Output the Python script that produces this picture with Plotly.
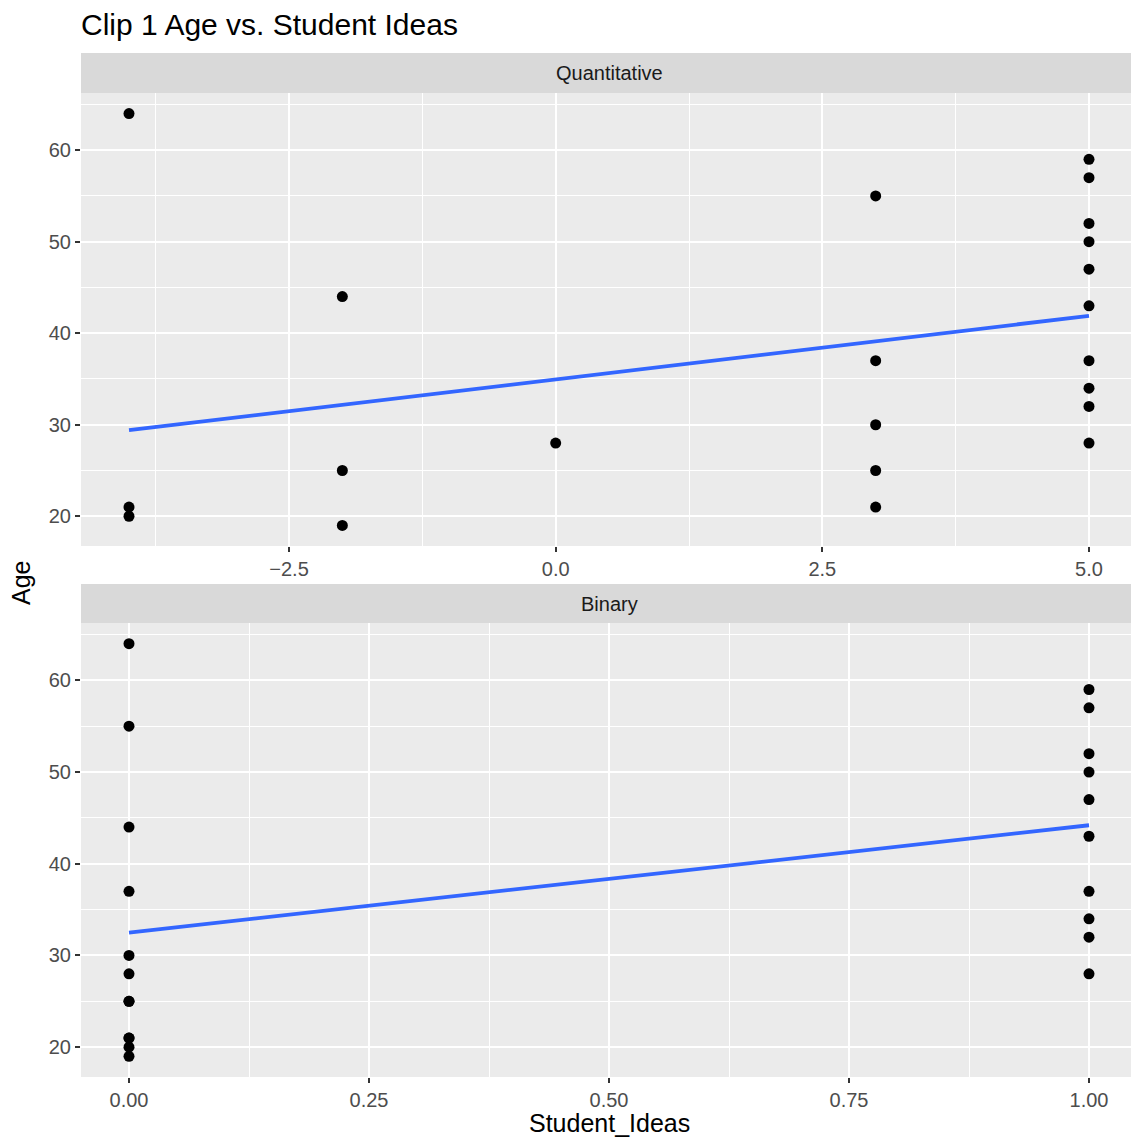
import plotly.graph_objects as go

# Quantitative panel data
quant_x = [-4, -4, -4, -2, -2, -2, 0, 3, 3, 3, 3, 3,
           5, 5, 5, 5, 5, 5, 5, 5, 5, 5]
quant_age = [64, 21, 20, 44, 25, 19, 28, 55, 37, 30, 25, 21,
             59, 57, 52, 50, 47, 43, 37, 34, 32, 28]
# Binary panel data
bin_x = [0, 0, 0, 0, 0, 0, 0, 0, 0, 0, 0, 0,
         1, 1, 1, 1, 1, 1, 1, 1, 1, 1]
bin_age = [64, 21, 20, 44, 25, 19, 28, 55, 37, 30, 25, 21,
           59, 57, 52, 50, 47, 43, 37, 34, 32, 28]
# Fitted lm lines
quant_fit_x = [-4, 5]
quant_fit_y = [29.4, 41.9]
bin_fit_x = [0, 1]
bin_fit_y = [32.5, 44.2]

quant_ticks = [-2.5, 0.0, 2.5, 5.0]
bin_ticks = [0.0, 0.25, 0.5, 0.75, 1.0]
y_ticks = [20, 30, 40, 50, 60]

OFF = 8  # page body margin
W, H = 1139 - OFF, 1141 - OFF
ml, mr, mt, mb = 81 - OFF, 2, 93 - OFF, 64
pw = W - ml - mr
ph = H - mt - mb

def py(px):  # reference pixel y -> paper y
    return (1141 - mb - px) / ph

def pxx(px):  # reference pixel x -> paper x
    return (px - 81) / pw

FONT = "Liberation Sans, Arial, sans-serif"
TICK_FS = 20
fig = go.Figure()

fig.add_trace(go.Scatter(x=quant_x, y=quant_age, mode="markers",
                         marker=dict(color="black", size=11), xaxis="x", yaxis="y", showlegend=False))
fig.add_trace(go.Scatter(x=quant_fit_x, y=quant_fit_y, mode="lines",
                         line=dict(color="#3366FF", width=3.8), xaxis="x", yaxis="y", showlegend=False))
fig.add_trace(go.Scatter(x=bin_x, y=bin_age, mode="markers",
                         marker=dict(color="black", size=11), xaxis="x2", yaxis="y2", showlegend=False))
fig.add_trace(go.Scatter(x=bin_fit_x, y=bin_fit_y, mode="lines",
                         line=dict(color="#3366FF", width=3.8), xaxis="x2", yaxis="y2", showlegend=False))

def xax(rng, ticks, fmt, minor_dtick, anchor):
    return dict(range=rng, tickvals=ticks, tickformat=fmt, showgrid=True, gridcolor="white",
                gridwidth=2.3, zeroline=False, ticks="outside", ticklen=5, tickcolor="#333333",
                tickwidth=2.2, tickfont=dict(size=TICK_FS, color="#4D4D4D", family=FONT),
                showline=False, anchor=anchor,
                minor=dict(dtick=minor_dtick, tick0=0, showgrid=True, gridcolor="white", gridwidth=1.1, ticks=""))

def yax(domain, anchor):
    return dict(range=[16.75, 66.25], domain=domain, tickvals=y_ticks, showgrid=True, gridcolor="white",
                gridwidth=2.3, zeroline=False, ticks="outside", ticklen=5, tickcolor="#333333",
                tickwidth=2.2, tickfont=dict(size=TICK_FS, color="#4D4D4D", family=FONT),
                anchor=anchor,
                minor=dict(dtick=5, tick0=15, showgrid=True, gridcolor="white", gridwidth=1.1, ticks=""))

top_dom = [py(546), 1.0]
bot_dom = [0.0, py(623)]

fig.update_layout(
    width=W, height=H,
    margin=dict(l=ml, r=mr, t=mt, b=mb),
    paper_bgcolor="white", plot_bgcolor="#EBEBEB",
    font=dict(family=FONT),
    xaxis=xax([-4.45, 5.45], quant_ticks, ".1f", 1.25, "y"),
    yaxis=yax(top_dom, "x"),
    xaxis2=xax([-0.05, 1.05], bin_ticks, ".2f", 0.125, "y2"),
    yaxis2=yax(bot_dom, "x2"),
    title=dict(text="Clip 1 Age vs. Student Ideas", x=(81 - OFF) / W, xanchor="left", xref="container",
               y=1 - (24 - OFF) / H, yanchor="middle", yref="container",
               font=dict(size=30, color="black", family=FONT)),
)

# strips
for y0, y1, label in [(53, 93, "Quantitative"), (584, 623, "Binary")]:
    fig.add_shape(type="rect", xref="paper", yref="paper", x0=0, x1=1, y0=py(y1), y1=py(y0),
                  fillcolor="#D9D9D9", line=dict(width=0), layer="below")
    fig.add_annotation(text=label, xref="paper", yref="paper", x=0.5, y=py((y0 + y1) / 2),
                       showarrow=False, yanchor="middle",
                       font=dict(size=TICK_FS, color="#1A1A1A", family=FONT))

fig.add_annotation(text="Age", xref="paper", yref="paper", x=pxx(21), xanchor="center",
                   y=py(583), yanchor="middle", textangle=-90, showarrow=False,
                   font=dict(size=25, color="black", family=FONT))
fig.add_annotation(text="Student_Ideas", xref="paper", yref="paper", x=pxx(609),
                   y=py(1123), yanchor="middle", showarrow=False,
                   font=dict(size=25, color="black", family=FONT))

fig.write_html("out.html")
